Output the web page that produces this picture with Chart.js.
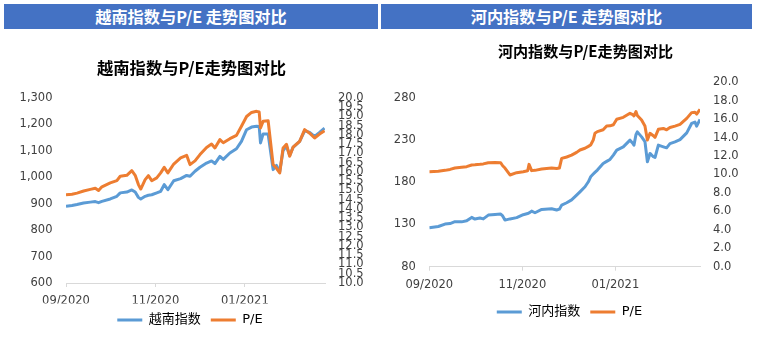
<!DOCTYPE html>
<html>
<head>
<meta charset="utf-8">
<script src="https://cdn.jsdelivr.net/npm/chart.js@4.4.0/dist/chart.umd.min.js"></script>
<style>
html,body{margin:0;padding:0;background:#fff;width:759px;height:340px;overflow:hidden;}
#wrap{position:relative;width:759px;height:340px;background:#fff;}
.hdr{position:absolute;top:4px;height:25px;background:#4472C4;color:#fff;font-family:"Noto Sans CJK SC",sans-serif;font-weight:bold;font-size:16.2px;line-height:25px;text-align:center;white-space:nowrap;z-index:2;}
canvas{position:absolute;top:0;}
</style>
</head>
<body>
<div id="wrap">
  <canvas id="c1" width="380" height="340" style="left:0px;width:380px;height:340px"></canvas>
  <canvas id="c2" width="379" height="340" style="left:380px;width:379px;height:340px"></canvas>
  <div class="hdr" style="left:4px;width:374px">越南指数与P/E 走势图对比</div>
  <div class="hdr" style="left:381px;width:371px">河内指数与P/E 走势图对比</div>
</div>
<script>
// ---------- Data (x = days since 2020-09-01) ----------
const xTickDay   = [0, 61, 122];
const xTickLabel = ['09/2020', '11/2020', '01/2021'];

// VN-Index chart
const vnDay = [0,4.1,7.5,12,16.6,20,22.2,24.5,30.2,34.7,37,41.5,44.9,47.2,49.4,51,54,56.2,58.5,61.9,64.6,67,69.5,73.5,78.2,82.3,84.6,88,91.4,95.9,99.3,101.6,105,107.3,111.8,116.3,119.7,123.2,126.6,130,131.8,132.7,134.5,137.9,141.3,143.6,145.8,148.1,150.4,152.6,154.9,159.4,162.8,166.2,169.6,173,176.4];
const vnIndex = [890,893,897,903,906,908,904,909,918,928,941,944,952,944,924,918,928,932,934,941,947,972,953,987,995,1007,1004,1023,1038,1054,1062,1052,1079,1068,1092,1108,1136,1180,1190,1193,1192,1130,1164,1164,1029,1045,1021,1101,1117,1083,1113,1136,1176,1170,1155,1170,1186];
const vnPE = [14.77,14.80,14.86,14.97,15.06,15.12,15.00,15.20,15.41,15.53,15.77,15.82,16.07,15.82,15.32,15.08,15.59,15.80,15.53,15.68,15.95,16.25,15.95,16.43,16.76,16.90,16.40,16.60,16.94,17.33,17.51,17.30,17.75,17.58,17.80,17.98,18.47,19.00,19.22,19.28,19.24,18.38,18.74,18.77,16.40,16.20,15.95,17.30,17.50,16.85,17.34,17.66,18.29,18.10,17.84,18.05,18.23];
const vnIndexTicks = [600,700,800,900,1000,1100,1200,1300];
const vnPETicks = [10.0,10.5,11.0,11.5,12.0,12.5,13.0,13.5,14.0,14.5,15.0,15.5,16.0,16.5,17.0,17.5,18.0,18.5,19.0,19.5,20.0];

// HNX-Index chart
const hnxDay = [0,5.9,10.3,13.6,16.8,21.2,24.5,27.8,29.9,33.2,35.4,38.7,43.1,46.8,48.1,49.6,52.9,57.3,61.6,64.5,65.4,67.1,69.3,73.7,80.2,83.5,85.3,86.8,90.1,93.3,96.6,98.8,102.1,104.3,105.8,107.5,108.6,110.2,114.0,116.3,118.5,120.7,122.9,127.2,131.6,133.4,134.2,135.5,136.4,139.2,141.4,143.0,144.7,146.9,148.0,150.2,153.5,155.6,157.8,161.1,164.4,168.8,172.0,174.2,175.3,177.5];
const hnxIndex = [126,127.5,130.4,131,133.2,133,134.3,138.3,136.3,137.5,136.5,141,141.8,142.2,140,135.1,136.5,138,141.5,142.8,143.5,145.7,143.8,147.7,148.5,147,148,152.8,155.6,159,164.6,168.5,174.5,180.4,186.3,189.5,191.5,194.2,202,204.5,206.8,212,217.8,221.7,229.6,226,223.7,236,239.4,233.5,228,204,213.9,210,209.1,223.7,221.7,220.5,225.5,227.6,230.3,238.2,249.3,251,246.1,254];
const hnxPE = [10.30,10.35,10.45,10.55,10.70,10.78,10.85,11.03,11.05,11.10,11.15,11.28,11.30,11.28,10.95,10.70,9.95,10.20,10.30,10.40,11.10,10.42,10.45,10.60,10.70,10.65,10.70,11.75,11.90,12.10,12.40,12.66,12.85,13.05,13.20,13.74,14.47,14.65,14.85,15.26,15.28,15.40,15.99,16.20,16.64,16.50,16.35,16.82,16.40,15.91,15.26,13.74,14.47,14.20,14.03,14.90,15.00,14.85,15.10,15.25,15.44,16.09,16.71,16.75,16.55,17.07];
const hnxIndexTicks = [80,130,180,230,280];
const hnxPETicks = [0,2,4,6,8,10,12,14,16,18,20];

// ---------- Chart setup ----------
const BLUE = '#5B9BD5', ORANGE = '#ED7D31', TXT = '#404040', AXIS = '#D9D9D9';
Chart.defaults.font.family = '"DejaVu Sans", "Noto Sans CJK SC", sans-serif';
const tickFont = {size: 11.5, family: '"DejaVu Sans", "Noto Sans CJK SC", sans-serif'};

function pts(xs, ys) { return ys.map((v, i) => ({x: xs[i], y: v})); }

function makeChart(id, o) {
  return new Chart(document.getElementById(id), {
    type: 'line',
    data: {
      datasets: [
        {label: o.name, data: pts(o.days, o.index), yAxisID: 'yL', borderColor: BLUE, backgroundColor: BLUE,
         borderWidth: 3, pointRadius: 0, tension: 0, order: 1, borderJoinStyle: 'round'},
        {label: 'P/E', data: pts(o.days, o.pe), yAxisID: 'yR', borderColor: ORANGE, backgroundColor: ORANGE,
         borderWidth: 3, pointRadius: 0, tension: 0, order: 0, borderJoinStyle: 'round'}
      ]
    },
    options: {
      responsive: false, animation: false, devicePixelRatio: 1,
      layout: {padding: {top: 30, bottom: o.padB, left: 0, right: 0}},
      plugins: {
        tooltip: {enabled: false},
        title: {display: true, text: o.title, color: '#000',
          font: {size: o.titleSize, weight: 'bold', family: '"Noto Sans CJK SC", sans-serif', lineHeight: 1.2},
          padding: {top: o.titlePadT, bottom: o.titlePadB}},
        legend: {display: true, position: 'bottom', maxHeight: 30,
          labels: {color: '#000', font: {size: 13}, boxWidth: 25, boxHeight: 3, padding: 10,
            sort: (a, b) => a.datasetIndex - b.datasetIndex,
            generateLabels: (chart) => Chart.defaults.plugins.legend.labels.generateLabels(chart)
              .map(l => Object.assign(l, {lineWidth: 0, fillStyle: l.strokeStyle}))}}
      },
      scales: {
        x: {type: 'linear', min: 0, max: o.xMax,
          afterBuildTicks: s => { s.ticks = xTickDay.map(v => ({value: v})); },
          afterFit: s => { s.height = o.xH; },
          ticks: {autoSkip: false, maxRotation: 0, padding: o.xPad, color: TXT, font: tickFont,
            callback: (v, i) => xTickLabel[i]},
          grid: {display: true, drawOnChartArea: false, drawTicks: true, tickLength: 4, color: AXIS},
          border: {display: true, color: AXIS, width: 1}},
        yL: {type: 'linear', position: 'left', min: o.lMin, max: o.lMax,
          afterBuildTicks: s => { s.ticks = o.lTicks.map(v => ({value: v})); },
          afterFit: s => { s.width = o.lW; },
          ticks: {autoSkip: false, padding: 13.5, color: TXT, font: tickFont,
            callback: v => v.toLocaleString('en-US')},
          grid: {display: false, drawTicks: false}, border: {display: false}},
        yR: {type: 'linear', position: 'right', min: o.rMin, max: o.rMax,
          afterBuildTicks: s => { s.ticks = o.rTicks.map(v => ({value: v})); },
          afterFit: s => { s.width = o.rW; },
          ticks: {autoSkip: false, padding: 13, color: TXT, font: tickFont,
            callback: v => Number(v).toFixed(1)},
          grid: {display: false, drawTicks: false}, border: {display: false}}
      }
    },
    plugins: [{
      id: 'titleShift',
      afterLayout(chart) {
        if (chart.titleBlock) { chart.titleBlock.left += o.titleShift; chart.titleBlock.right += o.titleShift; }
      }
    }]
  });
}

makeChart('c1', {
  name: '越南指数', title: '越南指数与P/E走势图对比', days: vnDay, index: vnIndex, pe: vnPE,
  padB: 6.5, titleSize: 16.3, titlePadT: 28.22, titlePadB: 20.22, titleShift: 1.5,
  xMax: 176.7, xH: 20.5, xPad: 7.1,
  lMin: 600, lMax: 1300, lTicks: vnIndexTicks, lW: 66,
  rMin: 10, rMax: 20, rTicks: vnPETicks, rW: 55
});

makeChart('c2', {
  name: '河内指数', title: '河内指数与P/E走势图对比', days: hnxDay, index: hnxIndex, pe: hnxPE,
  padB: 14.5, titleSize: 15.1, titlePadT: 11.94, titlePadB: 22.24, titleShift: 16,
  xMax: 177.5, xH: 28.8, xPad: 7.4,
  lMin: 80, lMax: 298, lTicks: hnxIndexTicks, lW: 49.3,
  rMin: 0, rMax: 20, rTicks: hnxPETicks, rW: 59
});
</script>
</body>
</html>
